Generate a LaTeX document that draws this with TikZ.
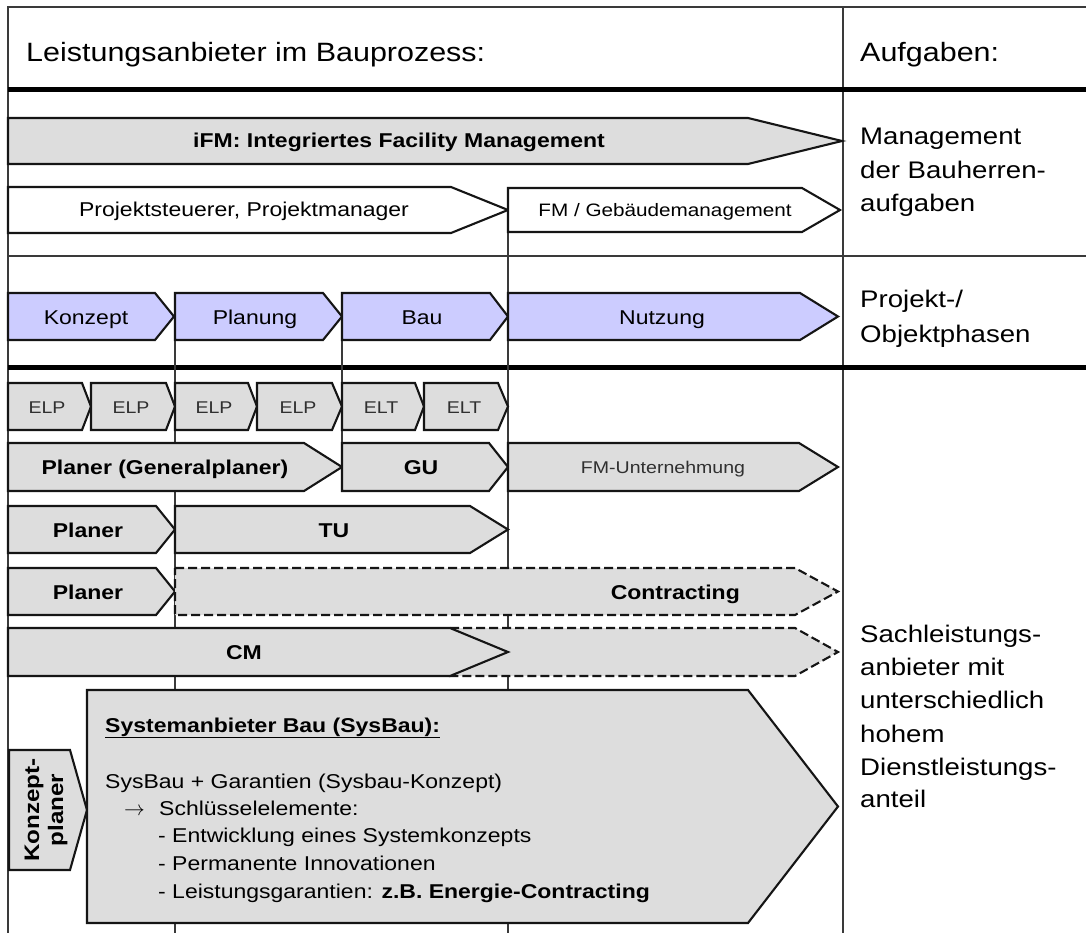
\documentclass[tikz,border=0pt]{standalone}
\usepackage{fontspec}
\setmainfont{Liberation Sans}[FakeStretch=1.15]
\definecolor{boxgray}{HTML}{DDDDDD}
\definecolor{phaseblue}{HTML}{CCCCFF}
\definecolor{linecol}{HTML}{151515}
\definecolor{guidecol}{HTML}{3A3A3A}
\definecolor{darktext}{HTML}{303030}
% pentagon arrow: style, left x, end of body, tip x, top y, bottom y
\newcommand{\chevbox}[6]{\path[#1] (#2,#5) -- (#3,#5) -- (#4,{(#5+#6)/2}) -- (#3,#6) -- (#2,#6) -- cycle;}
\begin{document}
\begin{tikzpicture}[x=1pt,y=-1pt,
  box/.style={draw=linecol, line width=2.1pt, fill=boxgray, line join=miter, miter limit=12},
  wbox/.style={box, fill=white},
  pbox/.style={box, fill=phaseblue},
  dbox/.style={box, dash pattern=on 9pt off 4pt},
  lab/.style={inner sep=0pt, anchor=base, font=\fontsize{20}{24}\selectfont},
  blab/.style={inner sep=0pt, anchor=base, font=\fontsize{20}{24}\selectfont\bfseries},
  small/.style={inner sep=0pt, anchor=base, font=\fontsize{17}{20}\selectfont, text=darktext},
  side/.style={inner sep=0pt, anchor=base west, font=\fontsize{24}{30}\selectfont},
  head/.style={inner sep=0pt, anchor=base west, font=\fontsize{26.5}{30}\selectfont},
  sys/.style={inner sep=0pt, anchor=base west, font=\fontsize{20}{24}\selectfont},
  guide/.style={draw=guidecol, line width=1.1pt},
  frame/.style={draw=guidecol, line width=1.6pt},
  heavy/.style={draw=black, line width=5pt},
]
\useasboundingbox (0,0) rectangle (1086,933);
\fill[white] (0,0) rectangle (1086,933);

% table frame
\draw[frame] (1086,7) -- (8,7) -- (8,933);
\draw[frame] (843,7) -- (843,933);
\draw[heavy] (8,90) -- (1086,90);
\draw[guide, line width=1.2pt] (8,256) -- (1086,256);
\draw[heavy] (8,367) -- (1086,367);

% phase guide lines
\draw[guide] (508,232) -- (508,933);
\draw[guide] (175,340) -- (175,933);
\draw[guide] (342,340) -- (342,443);

% headings
\node[head] (h1) at (26,62) {Leistungsanbieter im Bauprozess:};
\node[head] (h2) at (860,62) {Aufgaben:};

% management rows
\chevbox{box}{8}{748}{842}{118}{164}
\node[blab] (ifm) at (399,148) {iFM: Integriertes Facility Management};
\chevbox{wbox}{8}{451}{508}{187}{233}
\node[lab] (ps) at (244,217) {Projektsteuerer, Projektmanager};
\chevbox{wbox}{508}{802}{840}{188}{232}
\node[lab, font=\fontsize{18}{22}\selectfont] (fm) at (665,217) {FM / Gebäudemanagement};

\node[side] (m1) at (860,145) {Management};
\node[side] (m2) at (860,179) {der Bauherren-};
\node[side] (m3) at (860,212) {aufgaben};

% project phases
\chevbox{pbox}{8}{155}{174}{293}{340}
\node[lab] (p1) at (86,324) {Konzept};
\chevbox{pbox}{175}{323}{342}{293}{340}
\node[lab] (p2) at (255,324) {Planung};
\chevbox{pbox}{342}{490}{508}{293}{340}
\node[lab] (p3) at (422,324) {Bau};
\chevbox{pbox}{508}{800}{838}{293}{340}
\node[lab] (p4) at (662,324) {Nutzung};

\node[side] (o1) at (860,307) {Projekt-/};
\node[side] (o2) at (860,342) {Objektphasen};

% single services
\chevbox{box}{8}{82}{91}{383}{430}
\node[small] (e1) at (47,413) {ELP};
\chevbox{box}{91}{166}{175}{383}{430}
\node[small] (e2) at (131,413) {ELP};
\chevbox{box}{175}{248}{257}{383}{430}
\node[small] (e3) at (214,413) {ELP};
\chevbox{box}{257}{332}{342}{383}{430}
\node[small] (e4) at (298,413) {ELP};
\chevbox{box}{342}{415}{424}{383}{430}
\node[small] (e5) at (381,413) {ELT};
\chevbox{box}{424}{498}{508}{383}{430}
\node[small] (e6) at (464,413) {ELT};

% general planner / contractor
\chevbox{box}{8}{304}{342}{443}{491}
\node[blab] (gp) at (165,474) {Planer (Generalplaner)};
\chevbox{box}{342}{489}{508}{443}{491}
\node[blab] (gu) at (421,474) {GU};
\chevbox{box}{508}{799}{838}{443}{491}
\node[small] (fmu) at (663,473) {FM-Unternehmung};

% total contractor
\chevbox{box}{8}{156}{175}{506}{553}
\node[blab] (pl1) at (88,537) {Planer};
\chevbox{box}{175}{470}{508}{506}{553}
\node[blab] (tu) at (334,537) {TU};

% contracting
\chevbox{box}{8}{156}{175}{568}{615}
\node[blab] (pl2) at (88,599) {Planer};
\chevbox{dbox}{175}{795}{838}{568}{615}
\node[blab, anchor=base east] (con) at (740,599) {Contracting};

% construction management
\chevbox{dbox}{450}{795}{838}{628}{676}
\chevbox{box}{8}{450}{508}{628}{676}
\node[blab] (cm) at (244,659) {CM};

% system provider
\chevbox{box}{9}{70}{87}{750}{870}
\node[inner sep=0pt, rotate=90, align=center, font=\fontsize{21}{24}\selectfont\bfseries] (kp) at (46,810) {Konzept-\\planer};
\chevbox{box}{87}{748}{838}{690}{923}
\node[sys, font=\fontsize{20}{24}\selectfont\bfseries] (s0) at (105,732) {\underline{Systemanbieter Bau (SysBau):}};
\node[sys] (s1) at (105,788) {SysBau + Garantien (Sysbau-Konzept)};
\node[sys] (s2a) at (124,815) {$\rightarrow$};
\node[sys] (s2) at (159,815) {Schlüsselelemente:};
\node[sys] (s3) at (158,842) {- Entwicklung eines Systemkonzepts};
\node[sys] (s4) at (158,870) {- Permanente Innovationen};
\node[sys] (s5) at (158,898) {- Leistungsgarantien: \textbf{z.B. Energie-Contracting}};

\node[side] (d1) at (860,642) {Sachleistungs-};
\node[side] (d2) at (860,675) {anbieter mit};
\node[side] (d3) at (860,708) {unterschiedlich};
\node[side] (d4) at (860,742) {hohem};
\node[side] (d5) at (860,775) {Dienstleistungs-};
\node[side] (d6) at (860,807) {anteil};
\end{tikzpicture}
\end{document}
